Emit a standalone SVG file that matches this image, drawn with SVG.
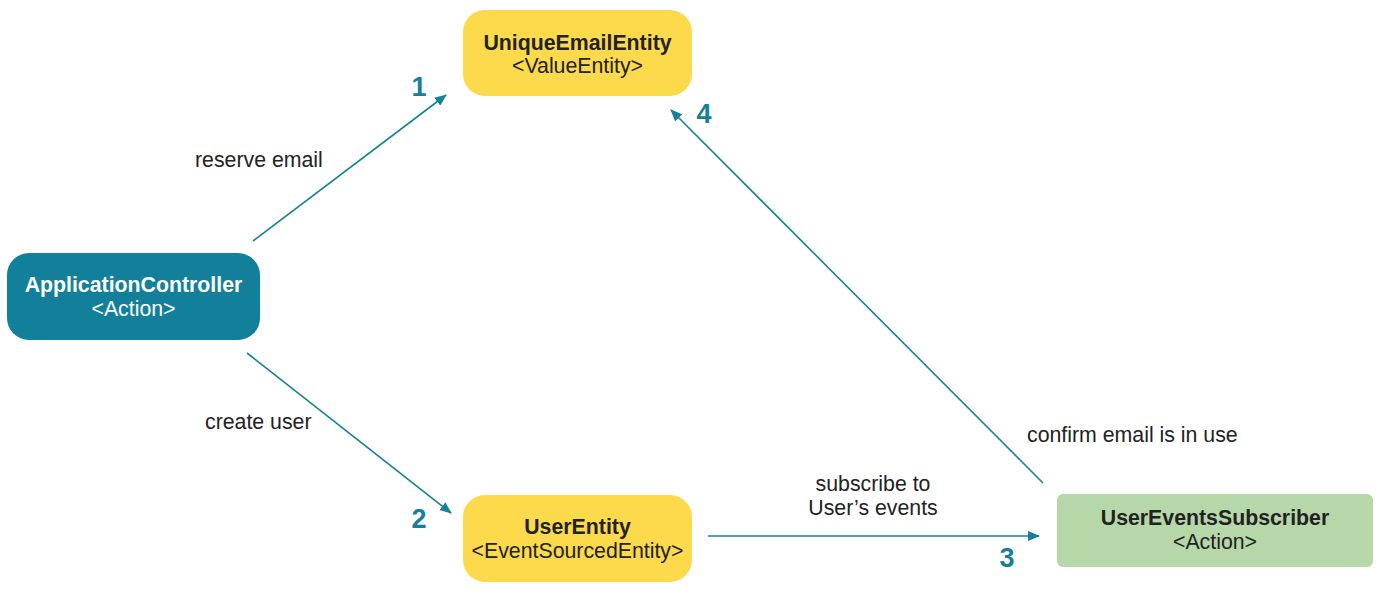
<svg xmlns="http://www.w3.org/2000/svg" width="1381" height="604" viewBox="0 0 1381 604">
<style>
text{font-family:"Liberation Sans",Arial,sans-serif;font-size:21.3px;fill:#222}
.b{font-weight:bold}
.c{text-anchor:middle}
.w{fill:#fff}
.n{font-weight:bold;font-size:27px;fill:#15809b;text-anchor:middle}
.e{stroke:#15809b;stroke-width:1.6;fill:none;marker-end:url(#ah)}
</style>
<defs>
<marker id="ah" viewBox="0 0 12 10" refX="11" refY="5" markerWidth="12" markerHeight="10" markerUnits="userSpaceOnUse" orient="auto">
<path d="M0,0 L12,5 L0,10 Z" fill="#15809b"/>
</marker>
</defs>
<rect width="1381" height="604" fill="#fff"/>
<g id="connectors">
<line class="e" x1="253" y1="241" x2="446" y2="95"/>
<line class="e" x1="247" y1="353" x2="451" y2="513"/>
<line class="e" x1="708" y1="536" x2="1039" y2="536"/>
<line class="e" x1="1043" y1="483" x2="671" y2="110"/>
<text x="195" y="167">reserve email</text>
<text x="205" y="429">create user</text>
<text x="1027" y="442">confirm email is in use</text>
<text class="c" x="873" y="491">subscribe to</text>
<text class="c" x="873" y="515">User’s events</text>
<text class="n" x="419" y="96">1</text>
<text class="n" x="419" y="528">2</text>
<text class="n" x="1007" y="567">3</text>
<text class="n" x="704" y="123">4</text>
</g>
<g id="uniqueEmailEntity">
<rect x="463" y="10" width="229" height="86" rx="22" fill="#fdd94c"/>
<text class="b c" x="577.5" y="50">UniqueEmailEntity</text>
<text class="c" x="577.5" y="73">&lt;ValueEntity&gt;</text>
</g>
<g id="applicationController">
<rect x="7" y="253" width="253" height="87" rx="22" fill="#12809b"/>
<text class="b c w" x="133.5" y="292">ApplicationController</text>
<text class="c w" x="133.5" y="316">&lt;Action&gt;</text>
</g>
<g id="userEntity">
<rect x="463" y="495" width="229" height="87" rx="22" fill="#fdd94c"/>
<text class="b c" x="577.5" y="534">UserEntity</text>
<text class="c" x="577.5" y="558">&lt;EventSourcedEntity&gt;</text>
</g>
<g id="userEventsSubscriber">
<rect x="1057" y="494" width="316" height="73" rx="6" fill="#b6d7a8"/>
<text class="b c" x="1215" y="525">UserEventsSubscriber</text>
<text class="c" x="1215" y="549">&lt;Action&gt;</text>
</g>
</svg>
